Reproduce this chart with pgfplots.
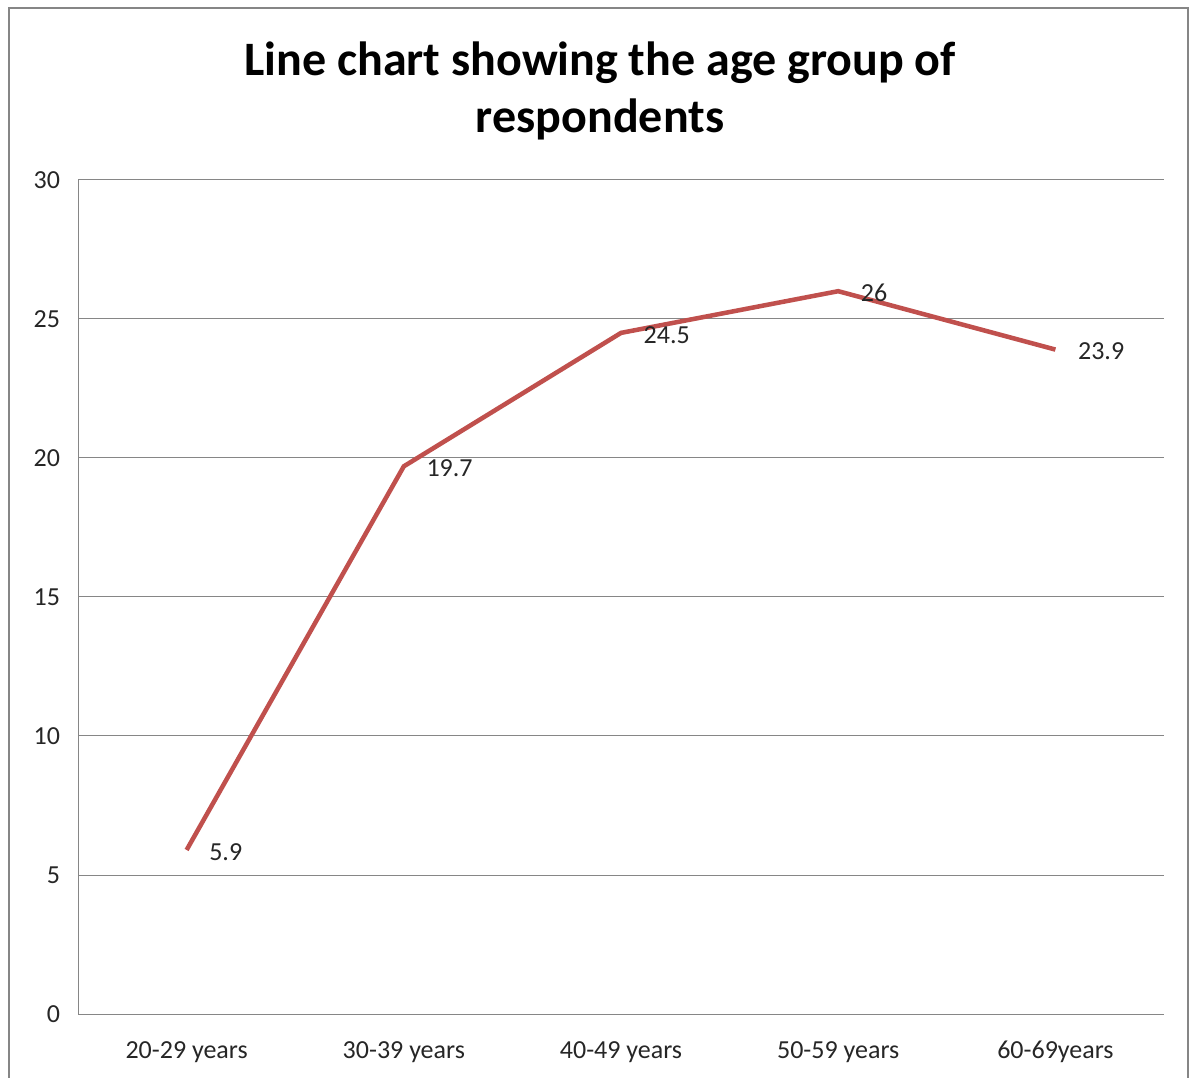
\documentclass[border=0pt]{standalone}
\usepackage{pgfplots}
\pgfplotsset{compat=1.18}
\usepackage{fontspec}
\setmainfont{Carlito}
\definecolor{linered}{RGB}{192,80,77}
\definecolor{gridgray}{RGB}{134,134,134}
\definecolor{framegray}{RGB}{134,134,134}

\begin{document}
\begin{tikzpicture}
% page: 1194 x 1077 units of 0.75pt
\path[use as bounding box] (0,0) rectangle (895.5pt,807.75pt);
\begin{scope}
\clip (0,0) rectangle (895.5pt,807.75pt);
\draw[framegray, line width=1.5pt] (6.75pt,-10pt) -- (6.75pt,801.75pt) -- (891pt,801.75pt) -- (891pt,-10pt);
\end{scope}

\node[font=\fontsize{36pt}{43pt}\selectfont\bfseries, align=center, anchor=center]
  at (450pt,739.5pt) {Line chart showing the age group of\\respondents};

\begin{axis}[
  at={(58.5pt,47.25pt)}, anchor=south west,
  scale only axis,
  width=814.5pt, height=625.5pt,
  xmin=-0.5, xmax=4.5,
  ymin=0, ymax=30,
  ytick={0,5,10,15,20,25,30},
  xtick={0,1,2,3,4},
  xticklabels={20-29 years,30-39 years,40-49 years,50-59 years,60-69years},
  axis x line*=bottom, axis y line*=left,
  axis line style={gridgray, line width=0.75pt, -},
  ymajorgrids, grid style={gridgray, line width=0.75pt},
  major tick length=0pt,
  tick style={draw=none},
  ticklabel style={font=\fontsize{19.5pt}{23pt}\selectfont, text=black!85},
  /pgf/number format/assume math mode=true,
  yticklabel style={xshift=-10pt},
  xticklabel style={yshift=-17pt},
  clip=false,
  nodes near coords,
  point meta=explicit symbolic,
  nodes near coords style={anchor=west, xshift=12pt, yshift=-1.5pt, font=\fontsize{19.5pt}{23pt}\selectfont, text=black!85},
]
\addplot[linered, line width=3.4pt, no markers] coordinates {
  (0,5.9)  [5.9]
  (1,19.7) [19.7]
  (2,24.5) [24.5]
  (3,26)   [26]
  (4,23.9) [23.9]
};
\end{axis}
\end{tikzpicture}
\end{document}
